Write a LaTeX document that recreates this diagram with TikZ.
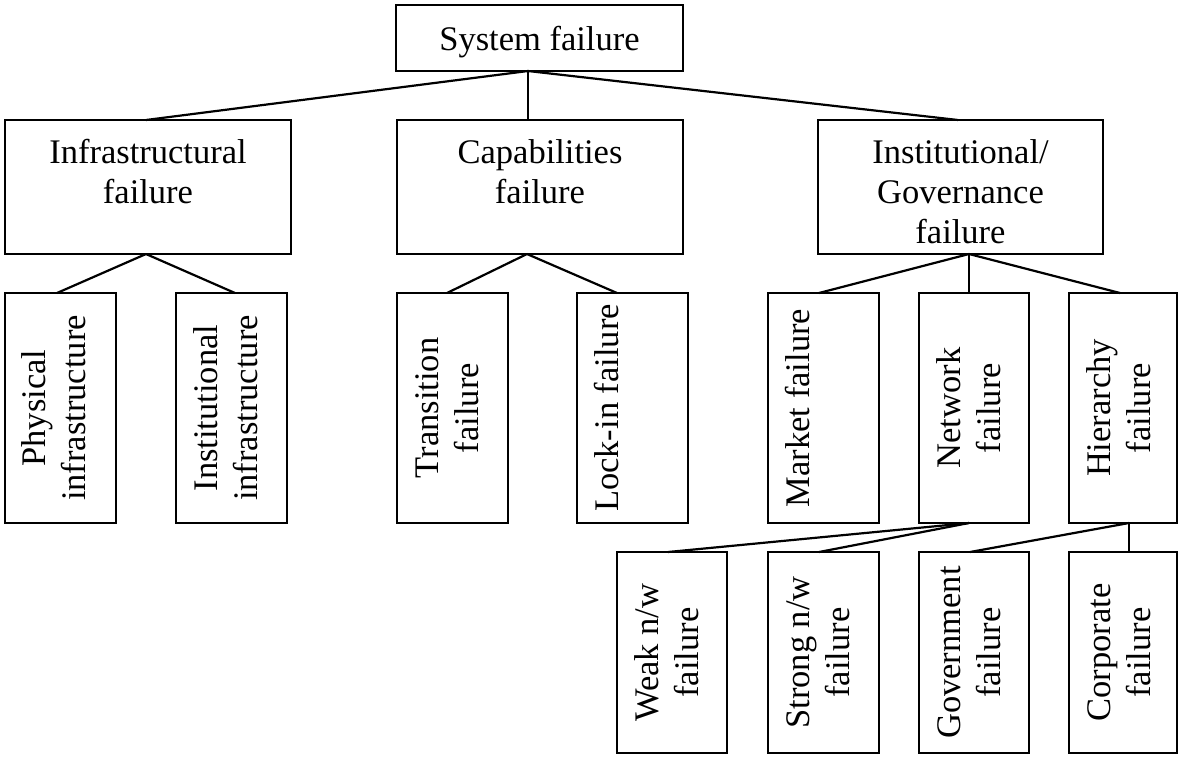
\documentclass[tikz,border=0pt]{standalone}
\usepackage{fontspec}
\setmainfont{Liberation Serif}
\usetikzlibrary{calc}
\newcommand{\mkh}[4]{\parbox[c][#2][t]{#1}{\centering\rule{0pt}{#3}#4}}
\newcommand{\mkv}[3]{\rotatebox{90}{\parbox[c][#2][t]{#1}{\centering\rule{0pt}{41pt}#3}}}
\tikzset{
  boxnode/.style={draw, line width=2.2pt, inner sep=0pt, outer sep=0pt,
    font=\fontsize{34.5}{40}\selectfont},
  conn/.style={line width=2.2pt}
}
\begin{document}
\begin{tikzpicture}[x=1pt,y=-1pt]
\useasboundingbox (0,0) rectangle (1180,756);
% level 0
\node[boxnode] (sys) at (539.5,38) {\mkh{287pt}{66pt}{45pt}{System failure}};
% level 1
\node[boxnode] (infra) at (148,187) {\mkh{286pt}{134pt}{43pt}{Infrastructural\\failure}};
\node[boxnode] (cap) at (540,187) {\mkh{286pt}{134pt}{43pt}{Capabilities\\failure}};
\node[boxnode] (inst) at (960.5,187) {\mkh{285pt}{134pt}{43pt}{Institutional/\\Governance\\failure}};
% level 2
\node[boxnode] (phys) at (60.5,408) {\mkv{230pt}{111pt}{Physical\\infrastructure}};
\node[boxnode] (instinf) at (231.5,408) {\mkv{230pt}{111pt}{Institutional\\infrastructure}};
\node[boxnode] (trans) at (452.5,408) {\mkv{230pt}{111pt}{Transition\\failure}};
\node[boxnode] (lock) at (632.5,408) {\mkv{230pt}{111pt}{Lock-in failure}};
\node[boxnode] (market) at (823.5,408) {\mkv{230pt}{111pt}{Market failure}};
\node[boxnode] (net) at (974,408) {\mkv{230pt}{110pt}{Network\\failure}};
\node[boxnode] (hier) at (1123,408) {\mkv{230pt}{108pt}{Hierarchy\\failure}};
% level 3
\node[boxnode] (weak) at (672,652.5) {\mkv{201pt}{110pt}{Weak n/w\\failure}};
\node[boxnode] (strong) at (823.5,652.5) {\mkv{201pt}{111pt}{Strong n/w\\failure}};
\node[boxnode] (gov) at (974,652.5) {\mkv{201pt}{110pt}{Government\\failure}};
\node[boxnode] (corp) at (1123,652.5) {\mkv{201pt}{108pt}{Corporate\\failure}};
% connector points
\coordinate (sysB) at ($(sys.south)+(-11.5,0)$);
\coordinate (infraB) at ($(infra.south)+(-2,0)$);
\coordinate (capB) at ($(cap.south)+(-13,0)$);
\coordinate (instB) at ($(inst.south)+(8.5,0)$);
\coordinate (netB) at ($(net.south)+(-5,0)$);
\coordinate (hierB) at ($(hier.south)+(6,0)$);
% connectors
\draw[conn] (sysB) -- ($(infra.north)+(-2,0)$);
\draw[conn] (sysB) -- ($(cap.north)+(-12,0)$);
\draw[conn] (sysB) -- ($(inst.north)+(-2.5,0)$);
\draw[conn] (infraB) -- ($(phys.north)+(-3.5,0)$);
\draw[conn] (infraB) -- ($(instinf.north)+(3.5,0)$);
\draw[conn] (capB) -- ($(trans.north)+(-5.5,0)$);
\draw[conn] (capB) -- ($(lock.north)+(-15.5,0)$);
\draw[conn] (instB) -- ($(market.north)+(-4.5,0)$);
\draw[conn] (instB) -- ($(net.north)+(-5,0)$);
\draw[conn] (instB) -- ($(hier.north)+(-3,0)$);
\draw[conn] (netB) -- ($(weak.north)+(-4,0)$);
\draw[conn] (netB) -- ($(strong.north)+(-4.5,0)$);
\draw[conn] (hierB) -- ($(gov.north)+(-4,0)$);
\draw[conn] (hierB) -- ($(corp.north)+(6,0)$);
\end{tikzpicture}
\end{document}
